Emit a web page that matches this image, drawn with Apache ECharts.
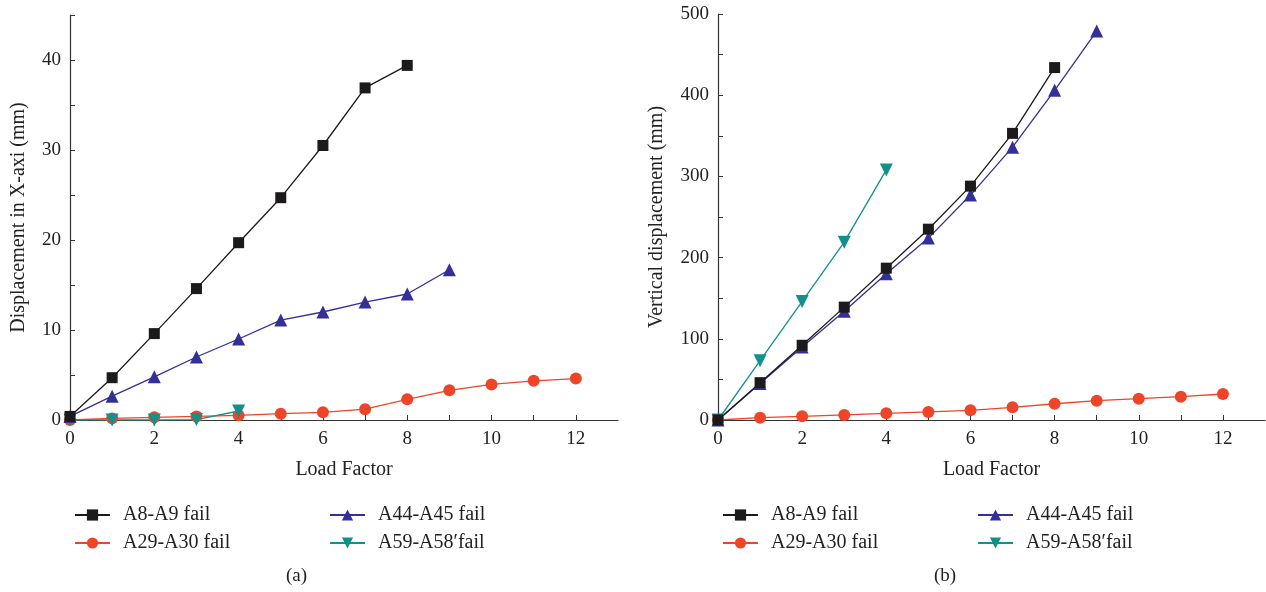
<!DOCTYPE html>
<html>
<head>
<meta charset="utf-8">
<script src="https://cdn.jsdelivr.net/npm/echarts@6/dist/echarts.min.js"></script>
<style>html,body{margin:0;padding:0;background:#fff;}#c{width:1266px;height:592px;}</style>
</head>
<body>
<div id="c"></div>
<script>
// Load factors
const loadFactor = [0,1,2,3,4,5,6,7,8,9,10,11,12];
// (a) Displacement in X-axis (mm)
const aA8A9   = [0.4, 4.7, 9.6, 14.6, 19.7, 24.7, 30.5, 36.9, 39.4];
const aA44A45 = [0.4, 2.65, 4.8, 7.0, 9.0, 11.1, 12.0, 13.1, 14.0, 16.7];
const aA29A30 = [0, 0.18, 0.3, 0.4, 0.52, 0.7, 0.85, 1.2, 2.3, 3.3, 3.95, 4.35, 4.6];
const aA59A58 = [0, 0, 0, 0.05, 1.0];
// (b) Vertical displacement (mm)
const bA8A9   = [0, 46, 92, 139, 187, 235, 288, 353, 434];
const bA44A45 = [0, 45, 90, 134, 180, 224, 277, 336, 406, 479];
const bA29A30 = [0, 2.9, 4.5, 6.2, 8.2, 9.9, 11.9, 15.6, 20, 23.8, 26.3, 28.7, 32];
const bA59A58 = [0, 73, 146, 219, 308];

const names = ['A8-A9 fail', 'A44-A45 fail', 'A29-A30 fail', 'A59-A58\u2032fail'];
const colors = ['#1c1a1a', '#33309a', '#ee4428', '#139089'];
const symbols = ['rect', 'triangle', 'circle', 'path://M0,0 L10,0 L5,9 Z'];
const sizes = [11, 13, 12, 13];

const FONT = '"Liberation Serif", "DejaVu Serif", serif';
const pair = arr => arr.map((v, i) => [loadFactor[i], v]);

function xAx(gi) {
  return {
    gridIndex: gi, type: 'value', min: 0, max: 13, interval: 1,
    name: 'Load Factor', nameLocation: 'middle', nameGap: 40,
    nameTextStyle: { fontFamily: FONT, fontSize: 20, color: '#222' },
    axisLine: { show: true, lineStyle: { color: '#333', width: 1.2 } },
    axisTick: { show: true, inside: true, length: 5, lineStyle: { color: '#333' } },
    axisLabel: { fontFamily: FONT, fontSize: 19, color: '#222', margin: 10, showMaxLabel: false,
      formatter: v => (v % 2 === 0 ? String(v) : '') },
    splitLine: { show: false }
  };
}
function yAx(gi, max, itv, lab, name, gap) {
  return {
    gridIndex: gi, type: 'value', min: 0, max: max, interval: itv,
    name: name, nameLocation: 'middle', nameGap: gap,
    nameTextStyle: { fontFamily: FONT, fontSize: 20, color: '#222' },
    axisLine: { show: true, lineStyle: { color: '#333', width: 1.2 } },
    axisTick: { show: true, inside: true, length: 5, lineStyle: { color: '#333' } },
    axisLabel: { fontFamily: FONT, fontSize: 19, color: '#222', margin: 9,
      formatter: v => (v % lab === 0 ? String(v) : '') },
    splitLine: { show: false }
  };
}
function ser(name, idx, data, gi) {
  return {
    name: name, type: 'line', xAxisIndex: gi, yAxisIndex: gi,
    data: pair(data), symbol: symbols[idx], symbolSize: sizes[idx],
    showAllSymbol: true,
    lineStyle: { color: colors[idx], width: 1.3 },
    itemStyle: { color: colors[idx] },
    emphasis: { disabled: true }, animation: false
  };
}
function legendItem(name, left, top) {
  return {
    data: [name], left: left, top: top, orient: 'horizontal',
    itemWidth: 35, itemHeight: 14, itemGap: 10,
    textStyle: { fontFamily: FONT, fontSize: 20, color: '#222', padding: [0, 0, 0, 8] },
    selectedMode: false
  };
}

const chart = echarts.init(document.getElementById('c'));
chart.setOption({
  backgroundColor: '#fff',
  animation: false,
  grid: [
    { left: 70, top: 15, width: 548, height: 405 },
    { left: 718, top: 14, width: 547, height: 406 }
  ],
  xAxis: [xAx(0), xAx(1)],
  yAxis: [
    yAx(0, 45, 5, 10, 'Displacement in X-axi (mm)', 41),
    yAx(1, 500, 50, 100, 'Vertical displacement (mm)', 51)
  ],
  legend: [
    legendItem(names[0], 69, 500),
    legendItem(names[1], 324, 500),
    legendItem(names[2], 69, 528),
    legendItem(names[3], 324, 528),
    legendItem(names[0], 717, 500),
    legendItem(names[1], 972, 500),
    legendItem(names[2], 717, 528),
    legendItem(names[3], 972, 528)
  ],
  graphic: [
    { type: 'text', left: 286, top: 567, style: { text: '(a)', font: '19px ' + FONT, fill: '#222' } },
    { type: 'text', left: 934, top: 567, style: { text: '(b)', font: '19px ' + FONT, fill: '#222' } }
  ],
  series: [
    ser(names[2], 2, aA29A30, 0),
    ser(names[3], 3, aA59A58, 0),
    ser(names[1], 1, aA44A45, 0),
    ser(names[0], 0, aA8A9, 0),
    ser(names[2], 2, bA29A30, 1),
    ser(names[3], 3, bA59A58, 1),
    ser(names[1], 1, bA44A45, 1),
    ser(names[0], 0, bA8A9, 1)
  ]
});
</script>
</body>
</html>
